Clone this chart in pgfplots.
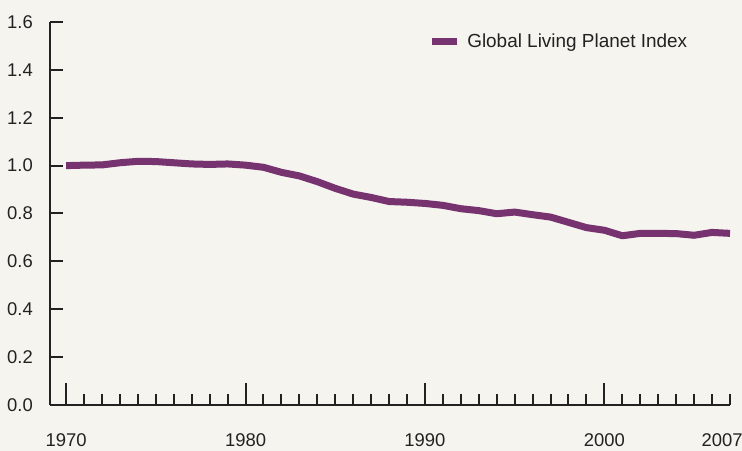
\documentclass[border=0pt]{standalone}
\usepackage{pgfplots}
\pgfplotsset{compat=1.18}
\usepackage{fontspec}
\setmainfont{Liberation Sans}
\definecolor{bg}{HTML}{F5F4EE}
\definecolor{lpi}{HTML}{76336F}
\definecolor{ink}{HTML}{222222}
\begin{document}
\begin{tikzpicture}
\fill[bg] (0,0) rectangle (742bp,451bp);
\begin{axis}[
    at={(50bp,46bp)}, anchor=south west,
    scale only axis, width=680bp, height=383bp,
    xmin=1969.1, xmax=2007, ymin=0, ymax=1.6,
    axis lines=left, axis line style={-, line width=2bp, ink},
    tick align=inside, tick style={line width=2bp, ink},
    xtick={1970,1980,1990,2000}, extra x ticks={2007},
    extra x tick style={major tick length=11bp, xticklabel style={xshift=-8bp}},
    minor xtick={1971,...,2007},
    major tick length=22bp, minor tick length=11bp,
    ytick=\empty, extra y ticks={0,0.2,0.4,0.6,0.8,1.0,1.2,1.4,1.6},
    extra y tick style={major tick length=13bp},
    yticklabel style={/pgf/number format/.cd, fixed, fixed zerofill, precision=1, /tikz/.cd},
    /pgf/number format/assume math mode=true,
    xticklabel={\pgfmathprintnumber[1000 sep={}]{\tick}},
    tick label style={font=\fontsize{18.5}{21}\selectfont, text=ink, inner sep=0pt},
    xticklabel style={anchor=north, yshift=-28bp},
    yticklabel style={anchor=east, xshift=-17bp},
    legend style={at={(0.556,0.950)}, anchor=west, draw=none, fill=none,
        inner sep=0pt, font=\fontsize{19}{22}\selectfont, text=ink,
        nodes={inner sep=0pt},
        /tikz/every odd column/.append style={column sep=7bp}},
    legend image code/.code={\draw[#1, line width=7bp, line cap=butt] (0bp,0bp) -- (25bp,0bp);},
]
\addplot[lpi, line width=7bp, line join=round] coordinates {
(1970,1.000) (1971,1.002) (1972,1.003) (1973,1.012) (1974,1.018)
(1975,1.017) (1976,1.012) (1977,1.007) (1978,1.005) (1979,1.007)
(1980,1.002) (1981,0.993) (1982,0.972) (1983,0.957) (1984,0.933)
(1985,0.905) (1986,0.881) (1987,0.867) (1988,0.850) (1989,0.847)
(1990,0.842) (1991,0.834) (1992,0.820) (1993,0.812) (1994,0.799)
(1995,0.806) (1996,0.795) (1997,0.785) (1998,0.763) (1999,0.741)
(2000,0.730) (2001,0.707) (2002,0.717) (2003,0.717) (2004,0.716)
(2005,0.709) (2006,0.721) (2007,0.717)
};
\addlegendentry{Global Living Planet Index}
\end{axis}
\pgfresetboundingbox
\useasboundingbox (0,0) rectangle (742bp,451bp);
\end{tikzpicture}
\end{document}
